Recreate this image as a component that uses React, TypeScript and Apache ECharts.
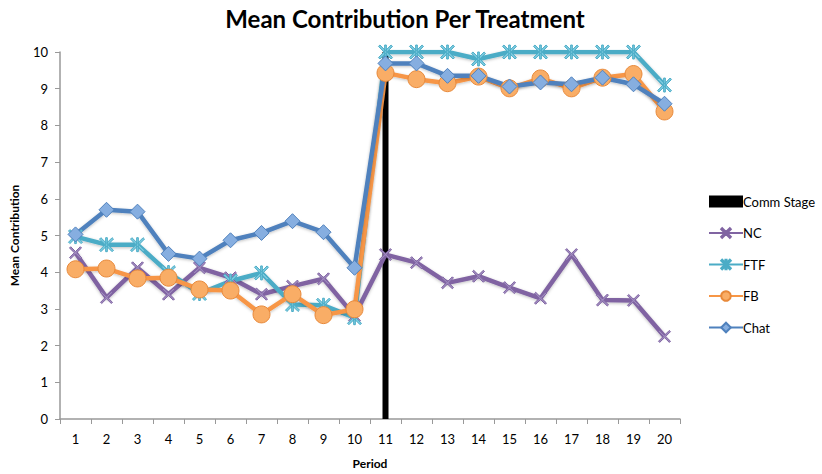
import React, { useEffect, useRef } from "react";
import * as echarts from "echarts";

const periods = ["1","2","3","4","5","6","7","8","9","10","11","12","13","14","15","16","17","18","19","20"];
const commStage = [null,null,null,null,null,null,null,null,null,null,10,null,null,null,null,null,null,null,null,null];
const nc = [4.53, 3.31, 4.12, 3.40, 4.12, 3.85, 3.40, 3.62, 3.82, 2.81, 4.48, 4.26, 3.71, 3.89, 3.58, 3.29, 4.48, 3.24, 3.23, 2.25];
const ftf = [4.97, 4.75, 4.75, 3.99, 3.42, 3.76, 3.98, 3.12, 3.10, 2.76, 10, 10, 10, 9.81, 10, 10, 10, 10, 10, 9.10];
const fb = [4.08, 4.10, 3.83, 3.85, 3.53, 3.50, 2.85, 3.40, 2.83, 2.99, 9.43, 9.26, 9.15, 9.33, 9.01, 9.28, 9.01, 9.30, 9.40, 8.38];
const chat = [5.03, 5.70, 5.65, 4.50, 4.37, 4.87, 5.07, 5.39, 5.09, 4.12, 9.69, 9.69, 9.35, 9.35, 9.06, 9.17, 9.12, 9.30, 9.12, 8.59];

const FONT = "Lato";
const X_PATH = "path://M0,1 L1,0 L5,4 L9,0 L10,1 L6,5 L10,9 L9,10 L5,6 L1,10 L0,9 L4,5 Z";
const AST_PATH = "path://M0,1 L1,0 L5,4 L9,0 L10,1 L6,5 L10,9 L9,10 L5,6 L1,10 L0,9 L4,5 Z M4.4,0 L5.6,0 L5.6,10 L4.4,10 Z";

export default function App() {
  const ref = useRef<HTMLDivElement>(null);
  useEffect(() => {
    const chart = echarts.init(ref.current!, null, { renderer: "svg" });
    const lineBase = (name: string, data: number[], color: string, symbol: string, size: number, fill: string, border: string) => ({
      name,
      type: "line",
      data,
      symbol,
      symbolSize: size,
      lineStyle: { color, width: 4.5, shadowColor: "rgba(0,0,0,0.25)", shadowBlur: 3, shadowOffsetY: 1 },
      itemStyle: { color: fill, borderColor: border, borderWidth: 1 },
      emphasis: { disabled: true },
    });
    chart.setOption({
      animation: false,
      backgroundColor: "#ffffff",
      title: {
        text: "Mean Contribution Per Treatment",
        left: 400,
        textAlign: "center",
        top: 1,
        textStyle: { fontFamily: FONT, fontWeight: "bold", fontSize: 24, color: "#000" },
      },
      grid: { left: 60, right: 142, top: 52, bottom: 54 },
      legend: {
        orient: "vertical",
        left: 703,
        top: 190,
        itemWidth: 34,
        itemHeight: 12,
        itemGap: 18.5,
        textStyle: { fontFamily: FONT, fontSize: 13, color: "#000", padding: [0, 0, 0, -5] },
        data: [
          { name: "Comm Stage", icon: "rect" },
          { name: "NC" },
          { name: "FTF" },
          { name: "FB" },
          { name: "Chat" },
        ],
      },
      xAxis: {
        type: "category",
        data: periods,
        boundaryGap: true,
        name: "Period",
        nameLocation: "middle",
        nameGap: 38,
        nameTextStyle: { fontFamily: FONT, fontWeight: "bold", fontSize: 12, color: "#000" },
        axisLine: { lineStyle: { color: "#999", width: 1.5 } },
        axisTick: { show: true, alignWithLabel: false, length: 5, lineStyle: { color: "#999" } },
        axisLabel: { fontFamily: FONT, fontSize: 13, color: "#000", margin: 13 },
      },
      yAxis: {
        type: "value",
        min: 0,
        max: 10,
        interval: 1,
        name: "Mean Contribution",
        nameLocation: "middle",
        nameGap: 40,
        nameTextStyle: { fontFamily: FONT, fontWeight: "bold", fontSize: 12, color: "#000" },
        axisLine: { show: true, lineStyle: { color: "#999", width: 1.5 } },
        axisTick: { show: true, length: 5, lineStyle: { color: "#999" } },
        axisLabel: { fontFamily: FONT, fontSize: 13, color: "#000", margin: 12 },
        splitLine: { show: false },
      },
      series: [
        {
          name: "Comm Stage",
          type: "bar",
          data: commStage,
          barWidth: 6,
          itemStyle: { color: "#000" },
          emphasis: { disabled: true },
        },
        lineBase("NC", nc, "#8064A2", X_PATH, 12, "#a08cc0", "#8064A2"),
        lineBase("FTF", ftf, "#4BACC6", AST_PATH, 14, "#7dcbe0", "#4BACC6"),
        lineBase("FB", fb, "#F79646", "circle", 17, "#f9ad66", "#e8893a"),
        lineBase("Chat", chat, "#4F81BD", "diamond", 15, "#86aee0", "#4F81BD"),
      ],
    });
    return () => chart.dispose();
  }, []);
  return <div ref={ref} style={{ width: 822, height: 474, position: "absolute", left: 0, top: 0 }} />;
}
